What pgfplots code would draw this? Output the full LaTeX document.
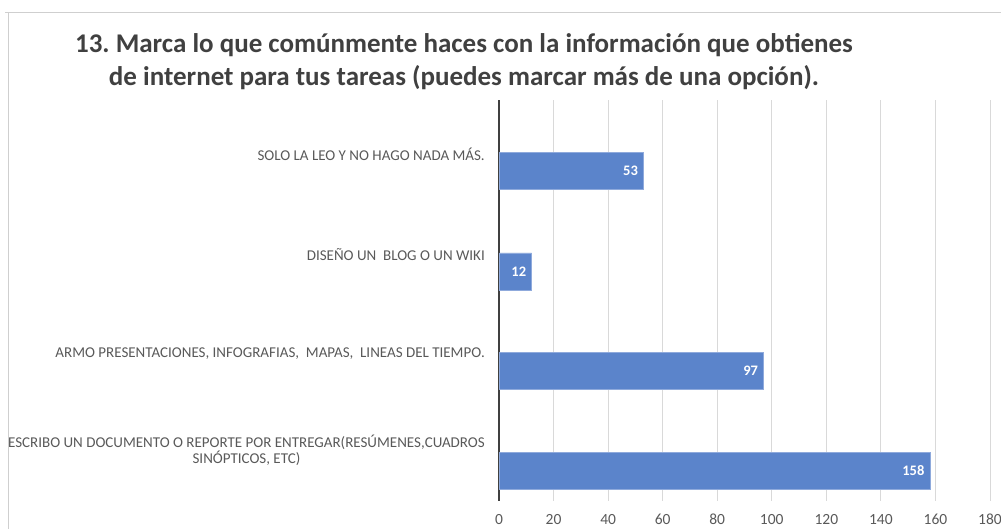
\documentclass[border=0pt]{standalone}
\usepackage{fontspec}
\setmainfont{Carlito}
\usepackage{pgfplots}
\pgfplotsset{compat=1.18}
\definecolor{titlegray}{HTML}{404040}
\definecolor{labgray}{HTML}{595959}
\definecolor{barblue}{HTML}{5B84CB}
\definecolor{baredge}{HTML}{8FAADC}
\definecolor{gridgray}{HTML}{D9D9D9}
\definecolor{framegray}{HTML}{CFCFCF}

\begin{document}
\frenchspacing
\begin{tikzpicture}
\useasboundingbox (0pt,0pt) rectangle (1001pt,529pt);
% chart frame (cut off at right and bottom)
\draw[framegray, line width=1pt] (5pt,516.5pt) -- (1001pt,516.5pt);
\draw[framegray, line width=1pt] (8.5pt,516.5pt) -- (8.5pt,0pt);

\node[font=\fontsize{27}{33}\selectfont\bfseries, text=titlegray, align=center]
  at (464pt,467.5pt) {13. Marca lo que comúnmente haces con la información que obtienes\\
  de internet para tus tareas (puedes marcar más de una opción).};

\begin{axis}[
  at={(499pt,28pt)}, anchor=south west,
  scale only axis, width=491pt, height=401pt,
  xmin=0, xmax=180, ymin=0, ymax=4,
  axis x line=bottom, axis y line=left,
  axis line style={-},
  x axis line style={draw=none},
  y axis line style={draw=titlegray, line width=1.3pt},
  major tick length=0pt,
  xtick={0,20,...,180},
  xmajorgrids, grid style={gridgray, line width=0.9pt},
  ytick={0.51,1.47,2.46,3.46},
  yticklabels={{ESCRIBO UN DOCUMENTO O REPORTE POR ENTREGAR(RESÚMENES,CUADROS\\SINÓPTICOS, ETC)},
               {ARMO PRESENTACIONES, INFOGRAFIAS,\ \ MAPAS,\ \ LINEAS DEL TIEMPO.},
               {DISEÑO UN\ \ BLOG O UN WIKI},
               {SOLO LA LEO Y NO HAGO NADA MÁS.}},
  y tick label style={font=\fontsize{15}{16}\selectfont, text=labgray,
                      align=center, inner xsep=0pt, xshift=-14pt},
  x tick label style={font=\fontsize{15.5}{16}\selectfont, text=labgray,
                      anchor=base, yshift=-24pt},
  /pgf/number format/assume math mode=true,
  xbar, bar width=37pt,
  nodes near coords, point meta=x,
  every node near coord/.append style={anchor=east, xshift=-2pt,
     font=\fontsize{14.5}{16}\selectfont\bfseries, text=white},
  clip=false,
]
  \addplot[fill=barblue, draw=baredge, line width=0.6pt] coordinates {
    (158,0.30) (97,1.30) (12,2.29) (53,3.29)
  };
\end{axis}
\end{tikzpicture}
\end{document}
